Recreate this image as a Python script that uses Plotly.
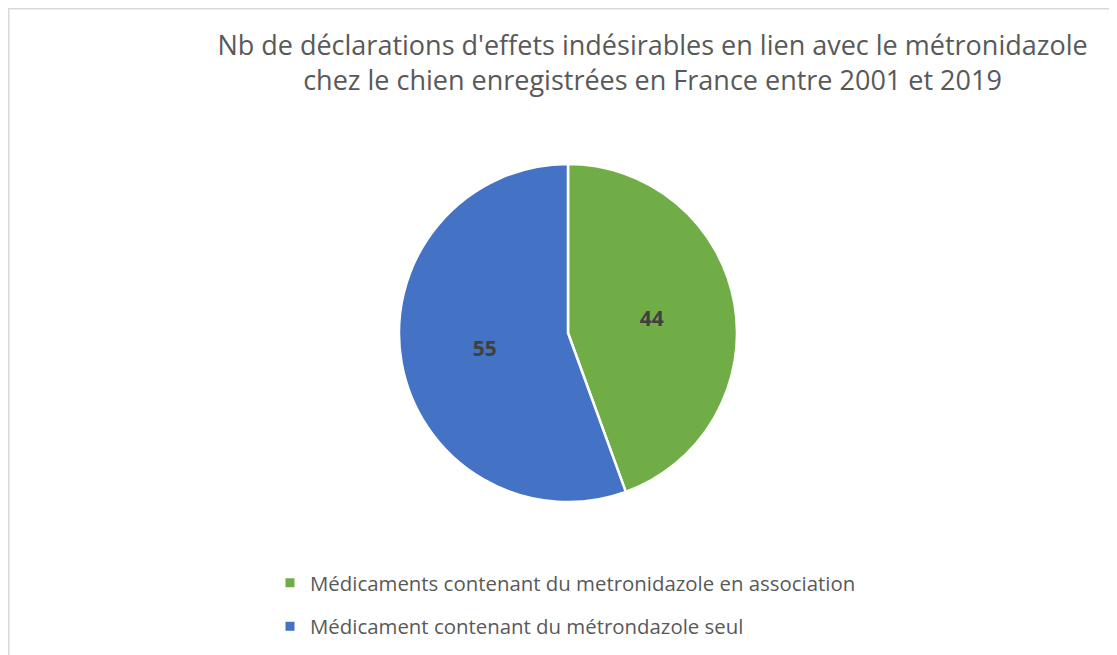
import plotly.graph_objects as go

labels = ["Médicaments contenant du metronidazole en association",
          "Médicament contenant du métrondazole seul"]
values = [44, 55]
colors = ["#70AD47", "#4472C4"]
title_lines = ["Nb de déclarations d'effets indésirables en lien avec le métronidazole",
               "chez le chien enregistrées en France entre 2001 et 2019"]

# page offset of the plot div (body margin)
OFF = 8
W, H = 1117 - OFF, 655 - OFF
cx, cy, r = 568 - OFF, 333 - OFF, 169

fig = go.Figure()
fig.add_trace(go.Pie(
    labels=labels, values=values, sort=False, direction="clockwise", rotation=0,
    marker=dict(colors=colors, line=dict(color="white", width=2.5)),
    textinfo="value", textposition="inside", insidetextorientation="horizontal",
    textfont=dict(family="Open Sans", size=21, color="#404040", weight="bold"),
    hoverinfo="label+value", showlegend=False,
    domain=dict(x=[(cx - r) / W, (cx + r) / W], y=[1 - (cy + r) / H, 1 - (cy - r) / H]),
))

# legend entries for the slices
for i, (lab, col) in enumerate(zip(labels, colors)):
    fig.add_trace(go.Scatter(
        x=[None], y=[None], mode="markers", name=lab, legendgroup=f"g{i}",
        marker=dict(symbol="square", size=9, color=col),
        showlegend=True, hoverinfo="skip",
    ))

fig.update_layout(
    width=W, height=H,
    margin=dict(l=0, r=0, t=0, b=0),
    paper_bgcolor="white", plot_bgcolor="white",
    xaxis=dict(visible=False), yaxis=dict(visible=False),
    title=dict(
        text="<br>".join(title_lines),
        x=(652.5 - OFF) / W, xanchor="center", y=1 - 47 / H, yanchor="top",
        font=dict(family="Open Sans", size=27, color="#595959"),
    ),
    legend=dict(
        x=(270 - OFF) / W, xanchor="left", y=1 - (563 - OFF) / H, yanchor="top",
        font=dict(family="Open Sans", size=20.4, color="#595959"),
        bgcolor="rgba(0,0,0,0)", traceorder="grouped", tracegroupgap=14,
    ),
    shapes=[dict(type="rect", xref="paper", yref="paper",
                 x0=0.8 / W, x1=1.02, y0=-0.02, y1=1 - 0.8 / H,
                 line=dict(color="#D9D9D9", width=1.5), fillcolor="rgba(0,0,0,0)", layer="below")],
)

fig.write_html("out.html")
